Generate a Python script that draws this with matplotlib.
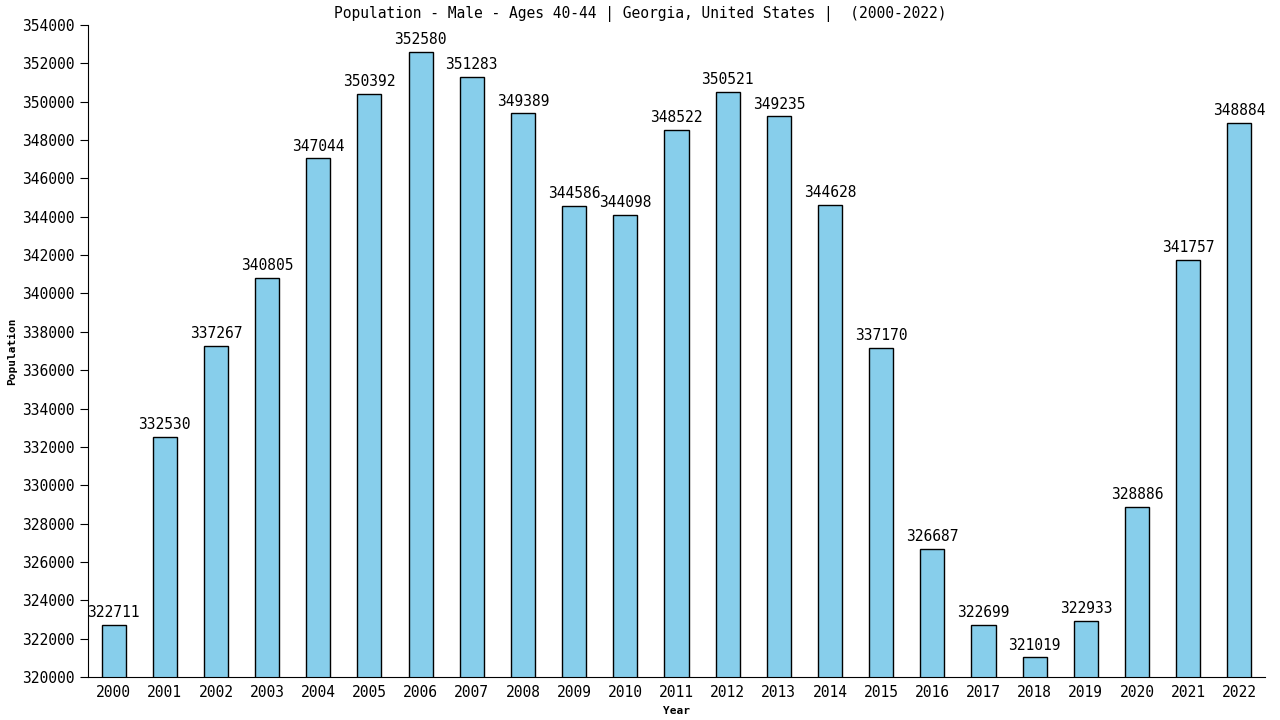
import matplotlib
matplotlib.use('Agg')
import matplotlib.pyplot as plt
import numpy as np

years = [str(y) for y in range(2000, 2023)]
population = [322711, 332530, 337267, 340805, 347044, 350392, 352580, 351283, 349389,
              344586, 344098, 348522, 350521, 349235, 344628, 337170, 326687, 322699,
              321019, 322933, 328886, 341757, 348884]

plt.rcParams['font.family'] = ['DejaVu Sans Mono']

fig = plt.figure(figsize=(12.8, 7.2), dpi=100)
ax = fig.add_axes([0.06875, 0.0597, 0.9195, 0.9056])

x = np.arange(len(years))
ax.bar(x, population, width=0.47, color='skyblue', edgecolor='black', linewidth=1)
for xi, v in zip(x, population):
    ax.text(xi, v + 250, str(v), ha='center', va='bottom', fontsize=10.5)

ax.set_xlim(-0.5, len(years) - 0.5)
ax.set_ylim(320000, 354000)
ax.set_yticks(range(320000, 354001, 2000))
ax.set_xticks(x)
ax.set_xticklabels(years)
ax.tick_params(axis='both', labelsize=10.5, direction='out', length=6)
ax.tick_params(axis='x', length=0, pad=6)
ax.spines['top'].set_visible(False)
ax.spines['right'].set_visible(False)

ax.set_xlabel('Year', fontsize=8, fontweight='bold')
ax.set_ylabel('Population', fontsize=8, fontweight='bold')
fig.text(0.5, 0.98, 'Population - Male - Ages 40-44 | Georgia, United States |  (2000-2022)',
         ha='center', va='center', fontsize=10.5)

fig.savefig('out.png', dpi=100)
